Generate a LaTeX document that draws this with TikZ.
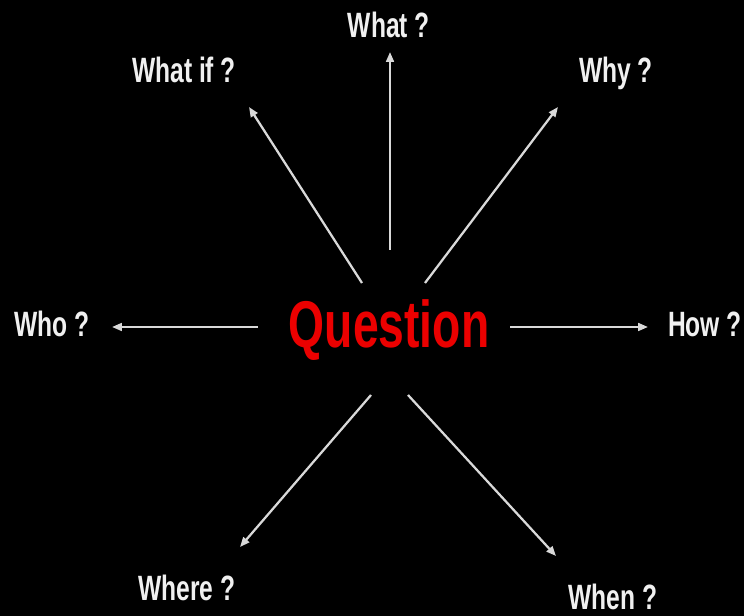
\documentclass[tikz,border=0pt]{standalone}
\usepackage{fontspec}
\setmainfont{Liberation Sans}[FakeStretch=0.7]
\usetikzlibrary{arrows.meta}

\begin{document}
\begin{tikzpicture}[
  x=0.025cm, y=-0.025cm,
  qlbl/.style={font=\fontsize{25}{30}\selectfont\bfseries, text=white!94!black, anchor=base, inner sep=0pt},
  qmain/.style={font=\fontsize{47}{56}\selectfont\bfseries, text=red!92!black, anchor=base, inner sep=0pt},
  qarrow/.style={draw=white!85!black, line width=1.6pt, -{Triangle[length=7pt, width=5.5pt]}}
]

\fill[black] (0,0) rectangle (744,616);
\useasboundingbox (0,0) rectangle (744,616);

\node[qmain] (q) at (389, 348) {Question};

\node[qlbl] (what) at (389, 38) {What ?};
\node[qlbl] (whatif) at (184, 83) {What if ?};
\node[qlbl] (why) at (616, 83) {Why ?};
\node[qlbl] (who) at (52, 337) {Who ?};
\node[qlbl] (how) at (705, 337) {How ?};
\node[qlbl] (where) at (187, 600) {Where ?};
\node[qlbl] (when) at (613, 609) {When ?};

\coordinate (s1) at (390, 250);  \coordinate (e1) at (390, 52);
\coordinate (s2) at (362, 283);  \coordinate (e2) at (249, 107);
\coordinate (s3) at (425, 283);  \coordinate (e3) at (558, 107);
\coordinate (s4) at (258, 327);  \coordinate (e4) at (112, 327);
\coordinate (s5) at (510, 327);  \coordinate (e5) at (648, 327);
\coordinate (s6) at (371, 395);  \coordinate (e6) at (240, 547);
\coordinate (s7) at (408, 395);  \coordinate (e7) at (556, 556);

\foreach \i in {1,...,7}
  \draw[qarrow] (s\i) -- (e\i);

\end{tikzpicture}
\end{document}
